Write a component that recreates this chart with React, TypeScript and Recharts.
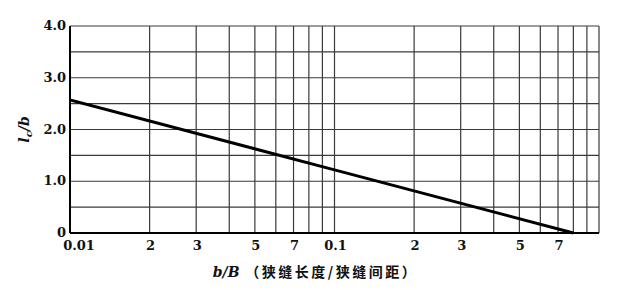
import { LineChart, Line, XAxis, YAxis, CartesianGrid, Label } from "recharts";

// b/B values where the line is read, and l_c/b values at those points
const ratioValues = [0.01, 0.1, 0.8];
const lengthValues = [2.57, 1.22, 0];

const xTicks = [0.01, 0.02, 0.03, 0.05, 0.07, 0.1, 0.2, 0.3, 0.5, 0.7];
const xTickLabels = ["0.01", "2", "3", "5", "7", "0.1", "2", "3", "5", "7"];
const xGridValues = [
  0.01, 0.02, 0.03, 0.04, 0.05, 0.06, 0.07, 0.08, 0.09, 0.1, 0.2, 0.3, 0.4,
  0.5, 0.6, 0.7, 0.8, 0.9, 1,
];
const yTicks = [0, 1, 2, 3, 4];
const yTickLabels = ["0", "1.0", "2.0", "3.0", "4.0"];
const yGridValues = [0, 0.5, 1, 1.5, 2, 2.5, 3, 3.5, 4];

const data = ratioValues.map((r, i) => ({ r, l: lengthValues[i] }));

const numFont = "'DejaVu Serif', 'Liberation Serif', serif";

function XTick(props: any) {
  const { x, y, payload, index } = props;
  const i = xTicks.indexOf(payload.value);
  return (
    <text
      x={x + (index === 0 ? 9 : 1)}
      y={y + 17}
      textAnchor="middle"
      fontFamily={numFont}
      fontWeight="bold"
      fontSize={13}
      fill="#111"
    >
      {xTickLabels[i]}
    </text>
  );
}

function YTick(props: any) {
  const { x, y, payload } = props;
  const i = yTicks.indexOf(payload.value);
  return (
    <text
      x={x - 4}
      y={y + 4}
      textAnchor="end"
      fontFamily={numFont}
      fontWeight="bold"
      fontSize={13}
      fill="#111"
    >
      {yTickLabels[i]}
    </text>
  );
}

export default function App() {
  return (
    <div style={{ position: "absolute", left: 0, top: 0, background: "#fff" }}>
      <LineChart
        width={629}
        height={290}
        data={data}
        margin={{ top: 26, right: 30, bottom: 0, left: 20 }}
      >
        <CartesianGrid
          verticalValues={xGridValues}
          horizontalValues={yGridValues}
          stroke="#3a3a3a"
          strokeWidth={1.2}
        />
        <XAxis
          dataKey="r"
          type="number"
          scale="log"
          domain={[0.01, 1]}
          ticks={xTicks}
          allowDataOverflow
          tick={<XTick />}
          tickLine={false}
          tickSize={0}
          tickMargin={0}
          interval={0}
          height={57}
          axisLine={{ stroke: "#000", strokeWidth: 2 }}
        >
          <Label
            position="insideBottom"
            content={(p: any) => {
              const vb = p.viewBox;
              const cx = vb.x + vb.width / 2 - 19;
              return (
                <text
                  x={cx}
                  y={vb.y + 44}
                  textAnchor="middle"
                  fontSize={14}
                  fontWeight="bold"
                  fill="#111"
                >
                  <tspan fontFamily={numFont} fontStyle="italic">
                    b/B
                  </tspan>
                  <tspan
                    fontFamily="'Noto Sans CJK SC', sans-serif"
                    fontSize={14}
                    letterSpacing={2.5}
                  >
                    {" （狭缝长度/狭缝间距）"}
                  </tspan>
                </text>
              );
            }}
          />
        </XAxis>
        <YAxis
          dataKey="l"
          type="number"
          domain={[0, 4]}
          ticks={yTicks}
          tick={<YTick />}
          tickLine={false}
          tickSize={0}
          tickMargin={0}
          interval={0}
          width={50}
          axisLine={{ stroke: "#000", strokeWidth: 2 }}
        >
          <Label
            content={(p: any) => {
              const vb = p.viewBox;
              const cy = vb.y + vb.height / 2;
              return (
                <text
                  transform={`translate(29, ${cy}) rotate(-90)`}
                  textAnchor="middle"
                  fontFamily={numFont}
                  fontStyle="italic"
                  fontWeight="bold"
                  fontSize={14}
                  fill="#111"
                >
                  l
                  <tspan fontSize={10} dy={3}>
                    c
                  </tspan>
                  <tspan dy={-3}>/b</tspan>
                </text>
              );
            }}
          />
        </YAxis>
        <Line
          dataKey="l"
          stroke="#000"
          strokeWidth={3}
          dot={false}
          isAnimationActive={false}
        />
      </LineChart>
    </div>
  );
}
